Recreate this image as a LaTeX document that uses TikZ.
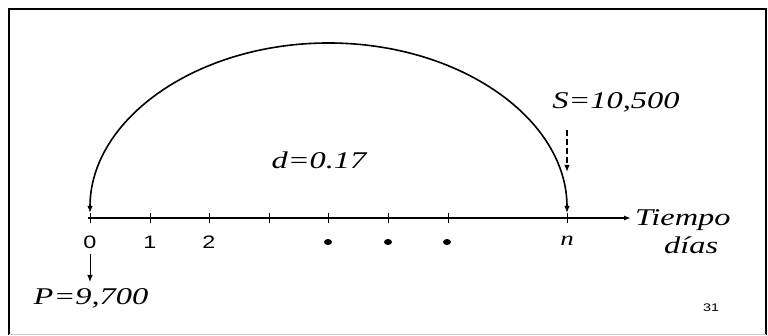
\documentclass[tikz,border=0pt]{standalone}
\usepackage{fontspec}
\setmainfont{Liberation Serif}
\newfontfamily\wideserif[FakeStretch=1.35]{Liberation Serif}
\newfontfamily\widesans[FakeStretch=1.3]{Liberation Sans}
\usetikzlibrary{arrows.meta,shapes.geometric}
\begin{document}
\begin{tikzpicture}[x=1pt,y=1pt,
  lbl/.style={inner sep=0pt,font=\wideserif\itshape\fontsize{24}{26}\selectfont},
  num/.style={inner sep=0pt,font=\widesans\fontsize{18}{20}\selectfont},
  tick/.style={line width=0.9pt},
  arr/.style={-{Latex[length=7pt,width=5.5pt]}},
  dotm/.style={fill=black,ellipse,inner sep=0pt,minimum width=8pt,minimum height=6pt}]
\useasboundingbox (0,0) rectangle (768,336);
% frame
\draw[line width=2pt] (9,1) -- (9,327) -- (766,327) -- (766,1);
\draw[gray!40,line width=1pt] (9,1) -- (766,1);
% axis
\coordinate (a0) at (88,118);
\coordinate (aend) at (631,118);
\draw[line width=1.4pt,-{Latex[length=7pt,width=5pt]}] (a0) -- (aend);
\foreach \i/\x in {0/90,1/150,2/209,3/269,4/328,5/388,6/448,n/567}{
  \coordinate (t\i) at (\x,118);
  \draw[tick] (\x,113) -- (\x,123);
}
% labels
\node[num] (l0) at (90,94) {0};
\node[num] (l1) at (150,94) {1};
\node[num] (l2) at (209,94) {2};
\node[dotm] (d1) at (328,94) {};
\node[dotm] (d2) at (388,94) {};
\node[dotm] (d3) at (447,94) {};
\node[inner sep=0pt,font=\wideserif\itshape\fontsize{20}{22}\selectfont] (ln) at (567,95) {n};
\node[lbl,anchor=west] (tiempo) at (635,116) {Tiempo};
\node[lbl,anchor=west] (dias) at (664,91) {días};
% arc
\coordinate (arcL) at (90,123);
\coordinate (arcR) at (567,123);
\draw[line width=1.6pt,{Latex[length=7pt,width=5.5pt]}-{Latex[length=7pt,width=5.5pt]}] (arcL) arc[start angle=180,end angle=0,x radius=238.5,y radius=170];
% S
\node[lbl] (S) at (616,234) {S=10,500};
\coordinate (sA) at (567,206);
\coordinate (sB) at (567,164);
\draw[line width=1.4pt,dashed,dash pattern=on 6pt off 3pt,arr] (sA) -- (sB);
% d
\node[lbl] (d) at (319,176) {d=0.17};
% P
\node[lbl] (P) at (91,38) {P=9,700};
\coordinate (pA) at (90,82);
\coordinate (pB) at (90,54);
\draw[line width=0.9pt,arr] (pA) -- (pB);
% page number
\node[inner sep=0pt,font=\widesans\fontsize{11}{12}\selectfont] (pg) at (711,28) {31};
\end{tikzpicture}
\end{document}
